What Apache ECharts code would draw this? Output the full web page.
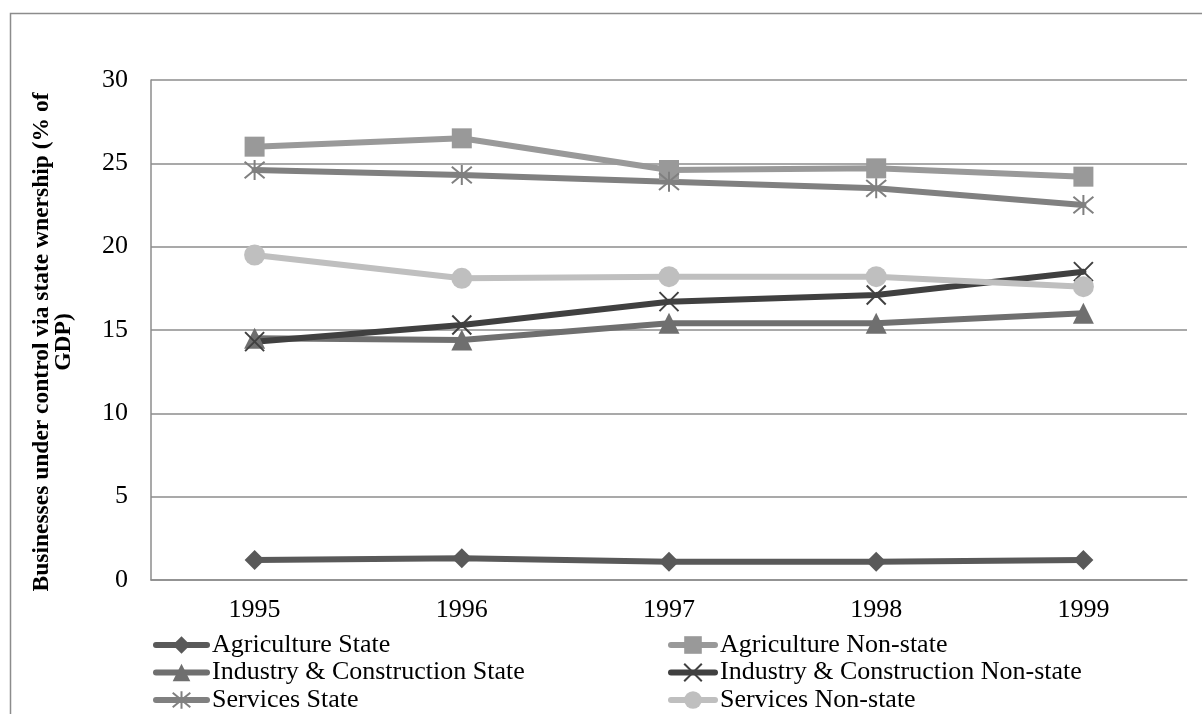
<!DOCTYPE html>
<html>
<head>
<meta charset="utf-8">
<script src="https://cdn.jsdelivr.net/npm/echarts@6/dist/echarts.min.js"></script>
<style>
html,body{margin:0;padding:0;background:#fff;}
#chart{width:1202px;height:714px;}
</style>
</head>
<body>
<div id="chart"></div>
<script>
const years = ['1995','1996','1997','1998','1999'];
const agricultureState = [1.2, 1.3, 1.1, 1.1, 1.2];
const agricultureNonState = [26.0, 26.5, 24.6, 24.7, 24.2];
const industryState = [14.5, 14.4, 15.4, 15.4, 16.0];
const industryNonState = [14.3, 15.3, 16.7, 17.1, 18.5];
const servicesState = [24.6, 24.3, 23.9, 23.5, 22.5];
const servicesNonState = [19.5, 18.1, 18.2, 18.2, 17.6];
const yTicks = [0, 5, 10, 15, 20, 25, 30];
const seriesNames = ['Agriculture State','Agriculture Non-state','Industry & Construction State','Industry & Construction Non-state','Services State','Services Non-state'];

const font = '"Liberation Serif", "Times New Roman", serif';
const xPath = 'path://M0,0L10,10M10,0L0,10';
const starPath = 'path://M0,0L10,10M10,0L0,10M5,-1L5,11';

function mk(name, data, color, symbol, size, opts) {
  const s = {
    name: name, type: 'line', data: data,
    symbol: symbol, symbolSize: size,
    lineStyle: {color: color, width: 6, cap: 'round'},
    itemStyle: {color: color},
    emphasis: {disabled: true},
    animation: false
  };
  if (opts && opts.stroke) {
    s.itemStyle = {color: 'rgba(0,0,0,0)', borderColor: color, borderWidth: 2};
  }
  return s;
}

const chart = echarts.init(document.getElementById('chart'), null, {renderer: 'canvas'});
const legendText = {fontFamily: font, fontSize: 26, color: '#000', lineHeight: 26};
const legendBase = {
  orient: 'vertical', top: 632, itemHeight: 22, itemGap: 1.5,
  textStyle: legendText, padding: 0,
  lineStyle: {width: 6, cap: 'round'}
};
chart.setOption({
  backgroundColor: '#fff',
  graphic: [{
    type: 'rect', left: 8, top: 11, shape: {x: 0, y: 0, width: 1400, height: 900},
    style: {fill: 'none', stroke: '#8c8c8c', lineWidth: 1.5}, silent: true, z: -1
  }],
  grid: {left: 151, top: 80, width: 1036, height: 500, containLabel: false},
  xAxis: {
    type: 'category', data: years, boundaryGap: true,
    axisLine: {show: true, lineStyle: {color: '#8c8c8c', width: 1.5}},
    axisTick: {show: false},
    axisLabel: {fontFamily: font, fontSize: 26, color: '#000', margin: 17}
  },
  yAxis: {
    type: 'value', min: yTicks[0], max: yTicks[yTicks.length - 1], interval: 5,
    name: 'Businesses under control via state wnership (% of\nGDP)',
    nameLocation: 'middle', nameRotate: 90, nameGap: 76,
    nameTextStyle: {fontFamily: font, fontSize: 23.5, fontWeight: 'bold', color: '#000', lineHeight: 22, padding: [0, 24, 0, 0]},
    axisLine: {show: true, lineStyle: {color: '#8c8c8c', width: 1.5}},
    axisTick: {show: false},
    splitLine: {show: true, lineStyle: {color: '#8c8c8c', width: 1.5}},
    axisLabel: {fontFamily: font, fontSize: 26, color: '#000', margin: 23}
  },
  legend: [
    Object.assign({}, legendBase, {
      data: [seriesNames[0], seriesNames[2], seriesNames[4]],
      left: 153, itemWidth: 51
    }),
    Object.assign({}, legendBase, {
      data: [seriesNames[1], seriesNames[3], seriesNames[5]],
      left: 668, itemWidth: 44
    })
  ],
  series: [
    mk(seriesNames[0], agricultureState, '#595959', 'diamond', 20),
    mk(seriesNames[1], agricultureNonState, '#999999', 'rect', 20),
    mk(seriesNames[2], industryState, '#6f6f6f', 'triangle', 21),
    mk(seriesNames[3], industryNonState, '#404040', xPath, 19, {stroke: true}),
    mk(seriesNames[4], servicesState, '#808080', starPath, 20, {stroke: true}),
    mk(seriesNames[5], servicesNonState, '#bfbfbf', 'circle', 21)
  ]
});
</script>
</body>
</html>
